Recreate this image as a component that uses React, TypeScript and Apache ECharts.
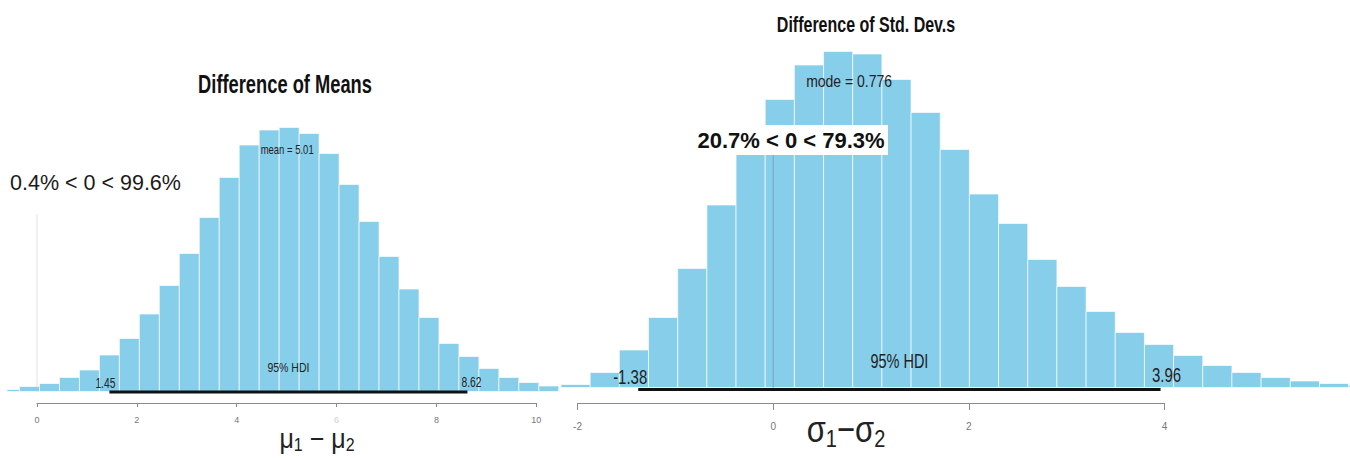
import React, { useEffect, useRef } from 'react';
import * as echarts from 'echarts';

const FONT = '"Liberation Sans", Arial, Helvetica, sans-serif';
const BAR = '#87CEEB';

// ---- Left panel: Difference of Means ----
const meansBinStart = -0.75;
const meansBinWidth = 0.4;
const meansHeights = [2, 5, 8, 14, 21.5, 36.5, 53, 77.5, 106, 138, 174, 214, 246.5, 261.5, 264, 258, 238, 207, 170, 135, 102.5, 74, 48, 35, 23, 14, 9, 5.5, 3];
const meansTickRange = [0, 10];
const meansTickStep = 2;
const meansHdi = [1.45, 8.62];
const meansMean = 5.01;
const meansZeroLine = 178;

// ---- Right panel: Difference of Std. Dev.s ----
const sdBinStart = -2.169;
const sdBinWidth = 0.2982;
const sdHeights = [3, 15, 37.5, 70, 119, 182.5, 240, 288, 322.5, 336, 333.5, 308, 275, 238, 193.5, 164, 128, 101, 76, 55, 43, 32, 22, 15, 10, 6.5, 4, 2.5];
const sdTickRange = [-2, 4];
const sdTickStep = 2;
const sdHdi = [-1.38, 3.96];
const sdMode = 0.776;
const sdZeroLine = 250;

function bins(start: number, width: number, heights: number[]) {
  return heights.map((h, i) => [start + i * width, start + (i + 1) * width, h]);
}

function renderBar(params: any, api: any) {
  const x0 = api.value(0);
  const x1 = api.value(1);
  const h = api.value(2);
  const a = api.coord([x0, h]);
  const b = api.coord([x1, 0]);
  const cs = params.coordSys;
  const left = Math.max(a[0], cs.x);
  const right = Math.min(b[0], cs.x + cs.width);
  if (right <= left) return null;
  return {
    type: 'rect',
    shape: { x: left, y: a[1], width: right - left, height: b[1] - a[1] },
    style: { fill: BAR, stroke: 'rgba(255,255,255,0.65)', lineWidth: 1 },
  };
}

function txt(text: string, x: number, y: number, o: any = {}) {
  return {
    type: 'text',
    x,
    y,
    scaleY: o.sy || 1,
    z: 100,
    style: {
      text,
      fill: o.color || '#222',
      fontSize: o.size || 12,
      fontWeight: o.weight || 'normal',
      fontFamily: FONT,
      align: o.align || 'center',
      verticalAlign: 'middle',
      rich: o.rich,
    },
  };
}

export default function App() {
  const ref = useRef<HTMLDivElement>(null);

  useEffect(() => {
    document.body.style.margin = '0';
    if (!ref.current) return;
    const chart = echarts.init(ref.current, null, { renderer: 'svg' });

    const axisCommon = (grid: number, range: number[], step: number, tickLen: number, fs: number, margin: number) => ({
      type: 'value',
      gridIndex: grid,
      min: range[0],
      max: range[1],
      interval: step,
      position: 'bottom',
      axisLine: { show: true, lineStyle: { color: '#8a8a8a', width: 1 } },
      axisTick: { show: true, length: tickLen, lineStyle: { color: '#8a8a8a' } },
      splitLine: { show: false },
      axisLabel: {
        fontSize: fs,
        color: '#777',
        fontFamily: FONT,
        margin,
        formatter: (v: number) => (v === 6 ? '{f|6}' : String(v)),
        rich: { f: { color: '#d0d0d0', fontSize: fs } },
      },
    });

    chart.setOption({
      animation: false,
      backgroundColor: '#ffffff',
      grid: [
        { left: 7.04, top: 91.5, width: 552.26, height: 300 },
        { left: 560, top: 37.5, width: 790, height: 350 },
        { left: 37, top: 402, width: 499.3, height: 1 },
        { left: 577.56, top: 402, width: 586.92, height: 1 },
      ],
      xAxis: [
        { type: 'value', gridIndex: 0, min: -0.6, max: 10.46, show: false },
        { type: 'value', gridIndex: 1, min: -2.1795, max: 5.8966, show: false },
        axisCommon(2, meansTickRange, meansTickStep, 4, 9, 12),
        axisCommon(3, sdTickRange, sdTickStep, 7, 10, 18),
      ],
      yAxis: [
        { type: 'value', gridIndex: 0, min: 0, max: 300, show: false },
        { type: 'value', gridIndex: 1, min: 0, max: 350, show: false },
        { type: 'value', gridIndex: 2, min: 0, max: 1, show: false },
        { type: 'value', gridIndex: 3, min: 0, max: 1, show: false },
      ],
      series: [
        {
          type: 'custom',
          xAxisIndex: 0,
          yAxisIndex: 0,
          renderItem: renderBar,
          encode: { x: [0, 1], y: 2 },
          data: bins(meansBinStart, meansBinWidth, meansHeights),
          z: 2,
        },
        {
          type: 'custom',
          xAxisIndex: 1,
          yAxisIndex: 1,
          renderItem: renderBar,
          encode: { x: [0, 1], y: 2 },
          data: bins(sdBinStart, sdBinWidth, sdHeights),
          z: 2,
        },
        {
          type: 'line',
          xAxisIndex: 0,
          yAxisIndex: 0,
          data: [[0, 0], [0, meansZeroLine]],
          symbol: 'none',
          lineStyle: { color: '#c4c4c4', width: 1, type: 'dotted' },
          z: 3,
          silent: true,
        },
        {
          type: 'line',
          xAxisIndex: 1,
          yAxisIndex: 1,
          data: [[0, 0], [0, sdZeroLine]],
          symbol: 'none',
          lineStyle: { color: '#5f7f8c', width: 1, type: 'dotted' },
          z: 3,
          silent: true,
        },
        {
          type: 'line',
          xAxisIndex: 0,
          yAxisIndex: 0,
          data: [[meansHdi[0], -0.5], [meansHdi[1], -0.5]],
          symbol: 'none',
          clip: false,
          lineStyle: { color: '#111', width: 3 },
          z: 4,
          silent: true,
        },
        {
          type: 'line',
          xAxisIndex: 1,
          yAxisIndex: 1,
          data: [[sdHdi[0], -2], [sdHdi[1], -2]],
          symbol: 'none',
          clip: false,
          lineStyle: { color: '#111', width: 3 },
          z: 4,
          silent: true,
        },
      ],
    });

    const px = (g: number, x: number) => (chart.convertToPixel({ gridIndex: g }, [x, 0]) as number[])[0];

    const subRich = (big: number, small: number, pad: number) => ({
      m: { fontSize: big, fontFamily: FONT, lineHeight: big + 2, verticalAlign: 'top', color: '#222' },
      s: { fontSize: small, fontFamily: FONT, lineHeight: small + 1, verticalAlign: 'top', padding: [pad, 0, 0, 0], color: '#222' },
    });

    chart.setOption({
      graphic: [
        txt('Difference of Means', 285, 84, { size: 18.3, weight: 'bold', sy: 1.45, color: '#111' }),
        txt('Difference of Std. Dev.s', 866, 25, { size: 16, weight: 'bold', sy: 1.38, color: '#111' }),
        txt('0.4% < 0 < 99.6%', 10, 182.5, { size: 21.5, align: 'left', color: '#1a1a1a' }),
        txt('mean = ' + meansMean, px(0, meansMean), 150, { size: 9.5, sy: 1.3 }),
        txt('95% HDI', px(0, (meansHdi[0] + meansHdi[1]) / 2), 368, { size: 10.5, sy: 1.3 }),
        txt(String(meansHdi[0]), px(0, meansHdi[0]) - 4, 383, { size: 10.3, sy: 1.35 }),
        txt(String(meansHdi[1]), px(0, meansHdi[1]) + 4, 382, { size: 10.3, sy: 1.35 }),
        {
          type: 'rect',
          z: 99,
          shape: { x: 695, y: 125, width: 193, height: 30 },
          style: { fill: '#ffffff' },
        },
        txt('20.7% < 0 < 79.3%', 791, 140, { size: 22, weight: 'bold', color: '#111' }),
        txt('mode = ' + sdMode, px(1, sdMode), 81, { size: 14, sy: 1.15 }),
        txt('95% HDI', px(1, (sdHdi[0] + sdHdi[1]) / 2), 361, { size: 14.5, sy: 1.35 }),
        txt(String(sdHdi[0]), px(1, sdHdi[0]) - 8, 377.5, { size: 15, sy: 1.35 }),
        txt(String(sdHdi[1]), px(1, sdHdi[1]) + 6, 375.5, { size: 15, sy: 1.35 }),
        txt('{m|μ}{s|1}{m| − μ}{s|2}', 317, 440, { sy: 1.12, rich: subRich(25, 16, 10) }),
        txt('{m|σ}{s|1}{m|−σ}{s|2}', 846, 430, { sy: 1.2, rich: subRich(31, 20, 14) }),
      ],
    });

    return () => {
      chart.dispose();
    };
  }, []);

  return <div ref={ref} style={{ width: 1350, height: 458 }} />;
}
